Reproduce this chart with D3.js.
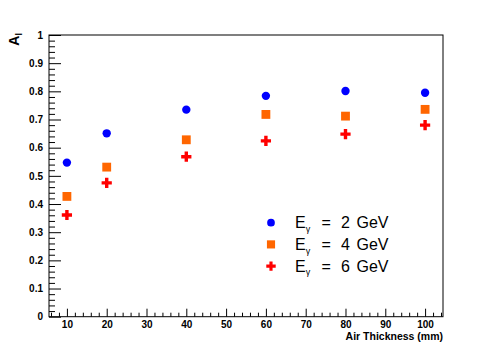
<!DOCTYPE html>
<html>
<head>
<meta charset="utf-8">
<script src="https://cdn.jsdelivr.net/npm/d3@7"></script>
<style>
  body { margin: 0; background: #fff; }
  svg { display: block; font-family: "Liberation Sans", Arial, sans-serif; }
</style>
</head>
<body>
<div id="chart"></div>
<script>
/* DATA */
const thickness = [10, 20, 40, 60, 80, 100];
const a2GeV = [0.547, 0.651, 0.735, 0.784, 0.801, 0.795];
const a4GeV = [0.427, 0.531, 0.628, 0.718, 0.712, 0.736];
const a6GeV = [0.361, 0.475, 0.568, 0.624, 0.648, 0.680];
const energies = ["2", "4", "6"];
const xTicks = [10, 20, 30, 40, 50, 60, 70, 80, 90, 100];
const yTicks = [0, 0.1, 0.2, 0.3, 0.4, 0.5, 0.6, 0.7, 0.8, 0.9, 1];

/* CONSTANTS */
const width = 493, height = 352;
const frame = { left: 49, right: 443, top: 35, bottom: 316.7 };

const series = [
  { label: energies[0], values: a2GeV, shape: d3.symbolCircle, size: 55, color: "#0000ff" },
  { label: energies[1], values: a4GeV, shape: d3.symbolSquare, size: 78, color: "#ff6600" },
  { label: energies[2], values: a6GeV, shape: d3.symbolCross, size: 58, color: "#ff0000" }
];

const xScale = d3.scaleLinear().domain([5.5, 104.5]).range([frame.left, frame.right]);
const yScale = d3.scaleLinear().domain([0, 1]).range([frame.bottom, frame.top]);

const svg = d3.select("#chart").append("svg")
  .attr("width", width)
  .attr("height", height);

// frame
svg.append("rect")
  .attr("x", frame.left).attr("y", frame.top)
  .attr("width", frame.right - frame.left)
  .attr("height", frame.bottom - frame.top)
  .attr("fill", "none").attr("stroke", "#000").attr("stroke-width", 1);

// x axis: minor ticks then major ticks, pointing inward
const xMinor = d3.range(6, 105, 2).filter(v => v % 10 !== 0);
svg.append("g")
  .attr("transform", `translate(0,${frame.bottom})`)
  .call(d3.axisBottom(xScale).tickValues(xMinor).tickSize(-4).tickFormat(""))
  .call(g => g.select(".domain").remove());

svg.append("g")
  .attr("class", "xAxis")
  .attr("transform", `translate(0,${frame.bottom})`)
  .call(d3.axisBottom(xScale).tickValues(xTicks).tickSize(-8).tickPadding(4).tickFormat(d3.format("d")))
  .call(g => g.select(".domain").remove())
  .call(g => g.selectAll("text").attr("font-size", 10).attr("font-weight", "bold").attr("fill", "#000")
    .attr("font-family", "Liberation Sans, Arial, sans-serif"));

// y axis
const yMinor = d3.range(0, 1.001, 0.02).filter(v => Math.round(v * 50) % 5 !== 0);
svg.append("g")
  .attr("transform", `translate(${frame.left},0)`)
  .call(d3.axisLeft(yScale).tickValues(yMinor).tickSize(-6).tickFormat(""))
  .call(g => g.select(".domain").remove());

svg.append("g")
  .attr("class", "yAxis")
  .attr("transform", `translate(${frame.left},0)`)
  .call(d3.axisLeft(yScale).tickValues(yTicks).tickSize(-12).tickPadding(6).tickFormat(d => d3.format("~g")(d)))
  .call(g => g.select(".domain").remove())
  .call(g => g.selectAll("text").attr("font-size", 10).attr("font-weight", "bold").attr("fill", "#000")
    .attr("font-family", "Liberation Sans, Arial, sans-serif"));

svg.selectAll(".tick line").attr("stroke", "#000");

// axis titles
svg.append("text")
  .attr("x", frame.right).attr("y", 340)
  .attr("text-anchor", "end")
  .attr("font-size", 10.5).attr("font-weight", "bold")
  .text("Air Thickness (mm)");

const yTitle = svg.append("text")
  .attr("transform", `translate(19,${frame.top - 2}) rotate(-90)`)
  .attr("text-anchor", "end")
  .attr("font-size", 14).attr("font-weight", "bold");
yTitle.append("tspan").text("A");
yTitle.append("tspan").attr("font-size", 9).attr("dy", 3).text("l");

// markers
series.forEach(s => {
  svg.append("g").selectAll("path")
    .data(thickness.map((t, i) => ({ x: t, y: s.values[i] })))
    .join("path")
    .attr("d", d3.symbol().type(s.shape).size(s.size))
    .attr("transform", d => `translate(${xScale(d.x)},${yScale(d.y)})`)
    .attr("fill", s.color);
});

// legend
const legend = svg.append("g").attr("transform", "translate(271,222.7)");
series.forEach((s, i) => {
  const row = legend.append("g").attr("transform", `translate(0,${i * 21.7})`);
  row.append("path")
    .attr("d", d3.symbol().type(s.shape).size(s.size * 0.85))
    .attr("fill", s.color);
  const t = row.append("text")
    .attr("y", 5.7)
    .attr("font-size", 16);
  t.append("tspan").attr("x", 24).text("E");
  t.append("tspan").attr("font-size", 9).attr("dy", 3.5).text("\u03b3");
  t.append("tspan").attr("x", 50.5).attr("dy", -3.5).text("=");
  t.append("tspan").attr("x", 70).text(s.label);
  t.append("tspan").attr("x", 85.5).text("GeV");
});
</script>
</body>
</html>
